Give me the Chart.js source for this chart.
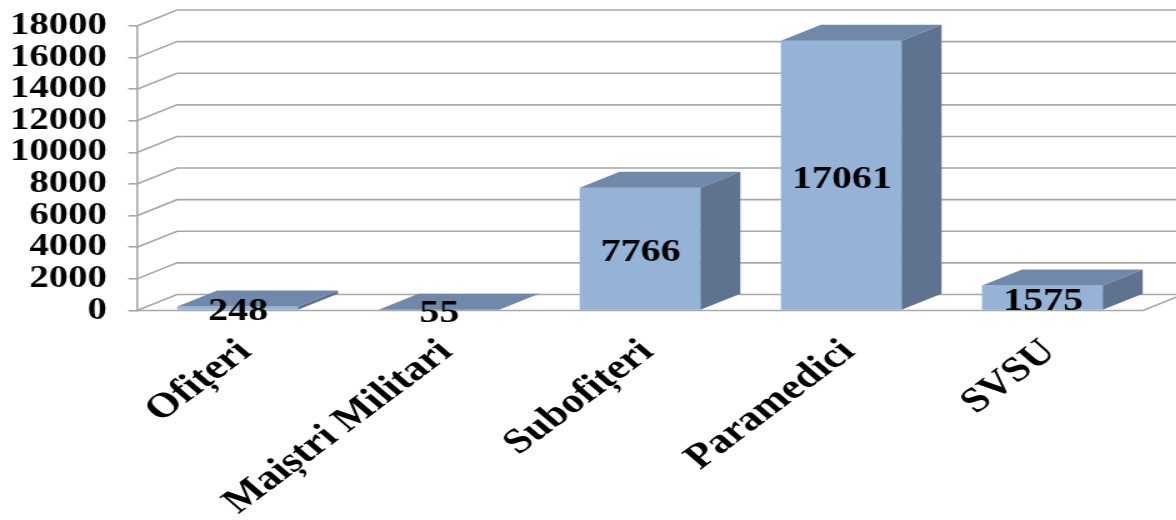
<!DOCTYPE html>
<html><head><meta charset="utf-8">
<script src="https://cdn.jsdelivr.net/npm/chart.js@4"></script>
<style>
html,body{margin:0;padding:0;background:#fff;overflow:hidden}
#wrap{width:1176px;height:520px;overflow:hidden}
canvas{display:block;transform:scaleX(1.25);transform-origin:0 0}
</style></head><body>
<div id="wrap"><canvas id="c" width="941" height="520"></canvas></div>
<script>
const categories = ["Ofițeri", "Maiștri Militari", "Subofițeri", "Paramedici", "SVSU"];
const values = [248, 55, 7766, 17061, 1575];
const yMax = 18000;
const yStep = 2000;

const FONT = '"Liberation Serif","Times New Roman",serif';
const DX = 32, DY = 16;
const GRID = '#a8a8a8';

const wall3d = {
  id: 'wall3d',
  beforeDatasetsDraw(chart) {
    const {ctx, scales: {x, y}} = chart;
    const L = x.left, R = x.right;
    ctx.save();
    ctx.strokeStyle = GRID;
    ctx.lineWidth = 1.6;
    y.ticks.forEach(t => {
      const py = y.getPixelForValue(t.value);
      ctx.beginPath();
      ctx.moveTo(L, py);
      ctx.lineTo(L + DX, py - DY);
      ctx.lineTo(R + DX, py - DY);
      ctx.stroke();
    });
    const b = y.getPixelForValue(0);
    ctx.beginPath();
    ctx.moveTo(L, b);
    ctx.lineTo(R, b);
    ctx.lineTo(R + DX, b - DY);
    ctx.stroke();
    ctx.restore();
  },
  afterDatasetsDraw(chart) {
    const {ctx} = chart;
    const meta = chart.getDatasetMeta(0);
    ctx.save();
    meta.data.forEach((bar, i) => {
      const l = bar.x - bar.width / 2, r = bar.x + bar.width / 2;
      const top = bar.y, base = bar.base;
      ctx.fillStyle = '#7089ab';
      ctx.beginPath();
      ctx.moveTo(l, top);
      ctx.lineTo(l + DX, top - DY);
      ctx.lineTo(r + DX, top - DY);
      ctx.lineTo(r, top);
      ctx.closePath();
      ctx.fill();
      ctx.fillStyle = '#5f7390';
      ctx.beginPath();
      ctx.moveTo(r, top);
      ctx.lineTo(r + DX, top - DY);
      ctx.lineTo(r + DX, base - DY);
      ctx.lineTo(r, base);
      ctx.closePath();
      ctx.fill();
    });
    ctx.fillStyle = '#000';
    ctx.font = 'bold 32px ' + FONT;
    ctx.textAlign = 'center';
    ctx.textBaseline = 'middle';
    meta.data.forEach((bar, i) => {
      ctx.fillText(String(values[i]), bar.x + 0.5, (bar.y + bar.base) / 2 + 4);
    });
    ctx.restore();
  }
};

function noPad(s) { s.paddingLeft = s.paddingRight = s.paddingTop = s.paddingBottom = 0; }

new Chart(document.getElementById('c'), {
  type: 'bar',
  data: {
    labels: categories,
    datasets: [{
      data: values,
      backgroundColor: '#95b3d7',
      borderWidth: 0,
      barPercentage: 0.6,
      categoryPercentage: 1
    }]
  },
  options: {
    responsive: false,
    animation: false,
    devicePixelRatio: 1,
    layout: {padding: {top: 26, right: 26.6, left: 0, bottom: 0}},
    plugins: {legend: {display: false}, tooltip: {enabled: false}, title: {display: false}},
    scales: {
      x: {
        afterFit(s) { s.height = 209.5; noPad(s); },
        grid: {display: false},
        border: {display: false},
        ticks: {
          autoSkip: false, maxRotation: 43, minRotation: 43,
          padding: 13, labelOffset: 6, color: '#000',
          font: {family: FONT, size: 35, weight: 'bold'}
        }
      },
      y: {
        min: 0, max: yMax,
        afterFit(s) { s.width = 109.6; noPad(s); },
        grid: {drawOnChartArea: false, drawTicks: true, tickLength: 7, color: GRID, lineWidth: 1.6},
        border: {display: true, color: GRID, width: 1.6},
        ticks: {
          stepSize: yStep, autoSkip: false, padding: 17, color: '#000',
          callback: v => String(v),
          font: {family: FONT, size: 31, weight: 'bold'}
        }
      }
    }
  },
  plugins: [wall3d]
});
</script>
</body></html>
